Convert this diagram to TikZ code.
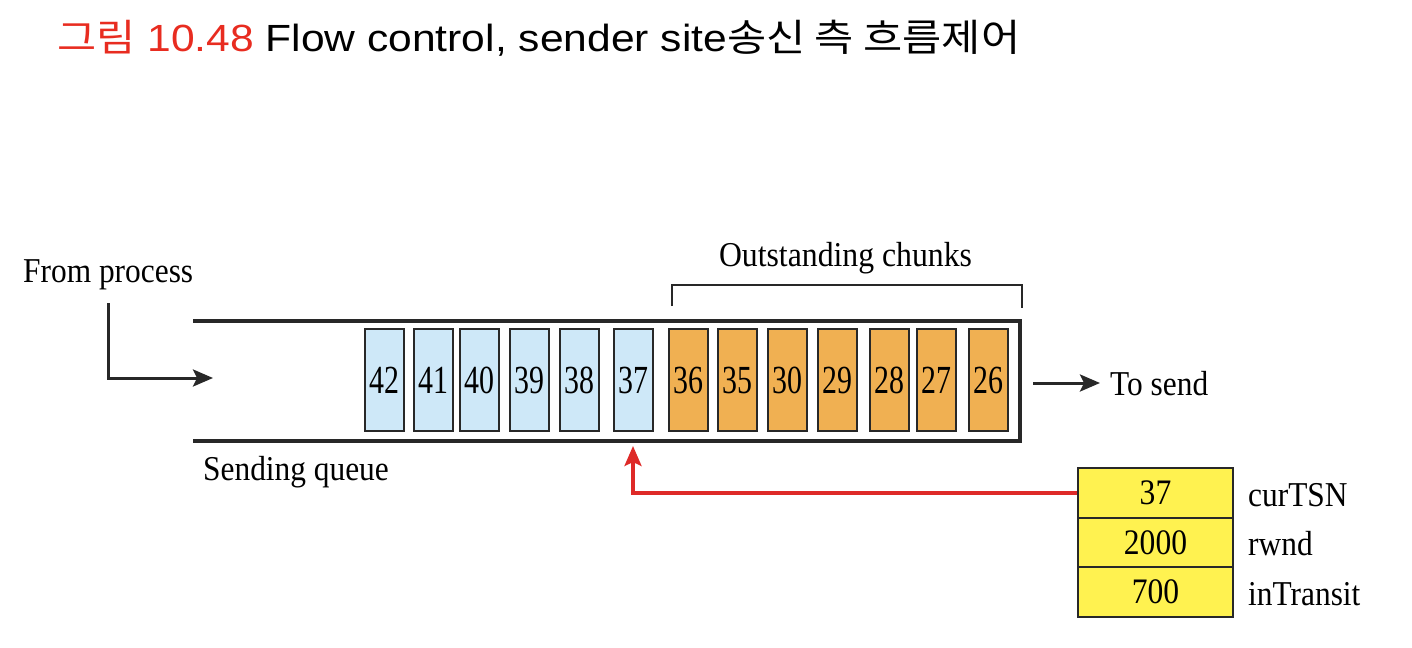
\documentclass[tikz,border=0pt]{standalone}
\usepackage{graphicx}
\usepackage{fontspec}
\setmainfont{Liberation Serif}
\newfontfamily\titlefont{Liberation Sans}
\newfontfamily\kofont{Noto Sans CJK KR}
\usetikzlibrary{arrows.meta}
\definecolor{titlered}{RGB}{232,44,32}
\definecolor{arrred}{RGB}{222,42,40}
\definecolor{chunkblue}{RGB}{206,232,248}
\definecolor{chunkorange}{RGB}{240,176,82}
\definecolor{tabyellow}{RGB}{255,242,80}
\definecolor{linegray}{RGB}{40,40,40}
\newcommand{\hs}[2]{\scalebox{#1}[1]{#2}}
\tikzset{
  chunk/.style={draw=linegray, line width=2bp, minimum width=39bp, minimum height=102bp, inner sep=0pt, font=\fontsize{40}{40}\selectfont},
  sentchunk/.style={chunk, fill=chunkblue},
  outchunk/.style={chunk, fill=chunkorange},
  tabcell/.style={draw=linegray, line width=2bp, fill=tabyellow, minimum width=155bp, minimum height=49.5bp, inner sep=0pt, font=\fontsize{36}{36}\selectfont},
  lbl/.style={inner sep=0pt, font=\fontsize{35}{35}\selectfont},
  queueline/.style={draw=linegray, line width=4.5bp},
  blackarr/.style={draw=linegray, line width=3bp, -{Stealth[length=20bp,width=17bp,inset=4bp]}},
  redarr/.style={draw=arrred, line width=3.5bp, -{Stealth[length=20bp,width=17bp,inset=4bp]}},
  bracket/.style={draw=linegray, line width=2.4bp}
}
\begin{document}
\begin{tikzpicture}[x=1bp,y=-1bp]
\useasboundingbox (0,0) rectangle (1412,648);
% title
\node[anchor=base west, inner sep=0pt] (title) at (57,52) {\resizebox{963bp}{\height}{\titlefont\fontsize{38}{38}\selectfont\textcolor{titlered}{{\kofont 그림} 10.48} Flow control, sender site{\kofont 송신 측 흐름제어}}};
% queue
\draw[queueline] (193,321) -- (1020,321) -- (1020,441) -- (193,441);
% chunks
\node[sentchunk] (c42) at (384.5,380) {\hs{0.75}{42}};
\node[sentchunk] (c41) at (433,380) {\hs{0.75}{41}};
\node[sentchunk] (c40) at (479.5,380) {\hs{0.75}{40}};
\node[sentchunk] (c39) at (529,380) {\hs{0.75}{39}};
\node[sentchunk] (c38) at (579.5,380) {\hs{0.75}{38}};
\node[sentchunk] (c37) at (633.5,380) {\hs{0.75}{37}};
\node[outchunk] (c36) at (688,380) {\hs{0.75}{36}};
\node[outchunk] (c35) at (737.5,380) {\hs{0.75}{35}};
\node[outchunk] (c30) at (787.5,380) {\hs{0.75}{30}};
\node[outchunk] (c29) at (837.5,380) {\hs{0.75}{29}};
\node[outchunk] (c28) at (889,380) {\hs{0.75}{28}};
\node[outchunk] (c27) at (936.5,380) {\hs{0.75}{27}};
\node[outchunk] (c26) at (988.5,380) {\hs{0.75}{26}};
% labels
\node[lbl, anchor=base west] (from) at (23,282) {\hs{0.9}{From process}};
\node[lbl, anchor=base west] (sq) at (203,480) {\hs{0.9}{Sending queue}};
\node[lbl, anchor=base] (out) at (845.5,266) {\hs{0.91}{Outstanding chunks}};
\node[lbl, anchor=base west] (tosend) at (1110,395) {\hs{0.9}{To send}};
% bracket
\coordinate (bl) at (672,306);
\coordinate (br) at (1022,308);
\draw[bracket] (bl) -- (672,285) -- (1022,285) -- (br);
% from process arrow
\coordinate (fpstart) at (108,303);
\coordinate (fpend) at (213,378);
\draw[blackarr] (fpstart) |- (fpend);
% to send arrow
\coordinate (tsstart) at (1033,383);
\draw[blackarr, shorten >=10bp] (tsstart) -- (tosend.west |- tsstart);
% table
\node[tabcell] (t1) at (1155.5,493) {\hs{0.88}{37}};
\node[tabcell] (t2) at (1155.5,542.5) {\hs{0.88}{2000}};
\node[tabcell] (t3) at (1155.5,592) {\hs{0.88}{700}};
\node[lbl, anchor=base west] (l1) at (1248,506) {\hs{0.9}{curTSN}};
\node[lbl, anchor=base west] (l2) at (1248,555) {\hs{0.9}{rwnd}};
\node[lbl, anchor=base west] (l3) at (1248,605) {\hs{0.9}{inTransit}};
% red arrow
\coordinate (tip) at (633,446);
\draw[redarr] (t1.west) -| (tip);
\end{tikzpicture}
\end{document}
